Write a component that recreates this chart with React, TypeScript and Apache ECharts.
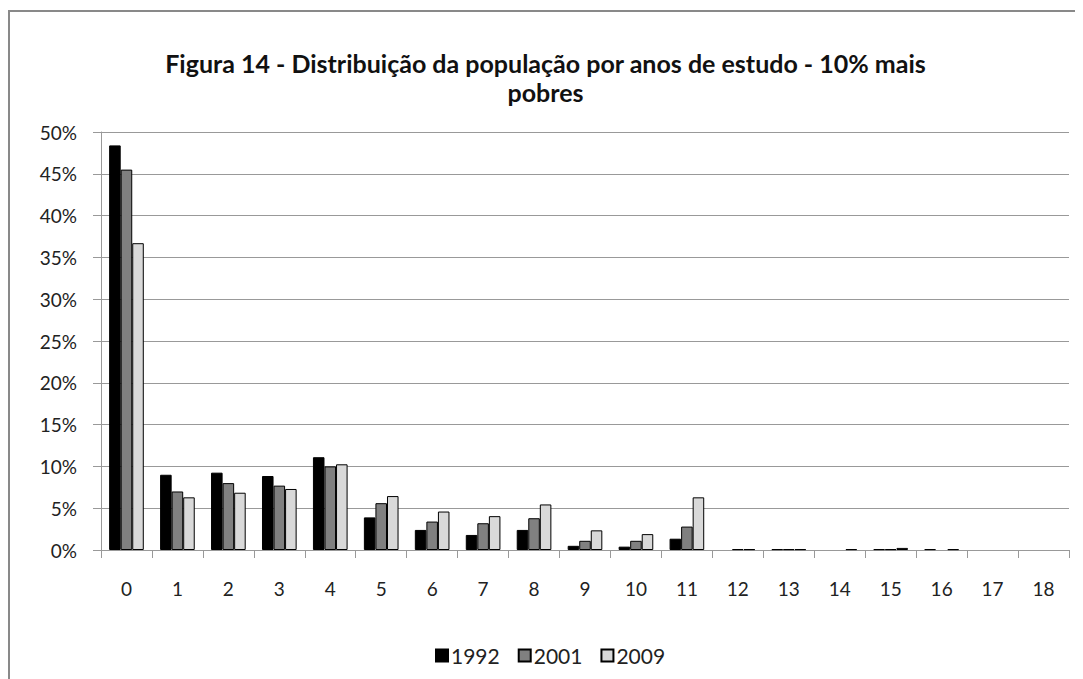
import React, { useEffect, useRef } from "react";
import * as echarts from "echarts";

const categories = ["0","1","2","3","4","5","6","7","8","9","10","11","12","13","14","15","16","17","18"];
const seriesNames = ["1992", "2001", "2009"];
const values1992 = [48.4, 9.0, 9.25, 8.85, 11.1, 3.9, 2.4, 1.8, 2.4, 0.5, 0.4, 1.35, 0, 0.1, 0, 0.1, 0.1, 0, 0];
const values2001 = [45.5, 7.0, 8.0, 7.7, 10.0, 5.6, 3.4, 3.2, 3.8, 1.1, 1.1, 2.8, 0.1, 0.1, 0, 0.1, 0, 0, 0];
const values2009 = [36.7, 6.3, 6.85, 7.3, 10.25, 6.45, 4.6, 4.05, 5.45, 2.35, 1.9, 6.3, 0.1, 0.1, 0.1, 0.25, 0.1, 0, 0];
const colors = ["#000000", "#808080", "#d9d9d9"];
const titleText = "Figura 14 - Distribuição da população por anos de estudo - 10% mais\npobres";

const FONT = "Lato, 'Open Sans', sans-serif";

export default function App() {
  const ref = useRef<HTMLDivElement>(null);
  useEffect(() => {
    if (!ref.current) return;
    const chart = echarts.init(ref.current, undefined, { renderer: "svg" });
    const data = [values1992, values2001, values2009];
    chart.setOption({
      animation: false,
      backgroundColor: "#ffffff",
      textStyle: { fontFamily: FONT },
      title: {
        text: titleText,
        left: "center",
        top: 35,
        textStyle: { fontFamily: FONT, fontSize: 25, fontWeight: "bold", color: "#111", lineHeight: 29 },
      },
      graphic: [
        {
          type: "rect",
          shape: { x: 1, y: 3, width: 2000, height: 2000 },
          style: { fill: "none", stroke: "#898989", lineWidth: 2 },
          silent: true,
        },
      ],
      legend: {
        data: seriesNames,
        left: 422,
        top: 632,
        itemWidth: 12,
        itemHeight: 12,
        itemGap: 18,
        icon: "rect",
        textStyle: { fontFamily: FONT, fontSize: 21, color: "#222", padding: [0, 0, 0, -2] },
      },
      grid: { left: 93, right: 14, top: 124, bottom: 129, containLabel: false },
      xAxis: {
        type: "category",
        data: categories,
        axisLine: { show: true, lineStyle: { color: "#999", width: 1 } },
        axisTick: { show: true, length: 8, alignWithLabel: false, lineStyle: { color: "#999" } },
        axisLabel: { fontFamily: FONT, fontSize: 19, color: "#222", margin: 29 },
      },
      yAxis: {
        type: "value",
        min: 0,
        max: 50,
        interval: 5,
        axisLine: { show: true, lineStyle: { color: "#999", width: 1 } },
        axisTick: { show: true, length: 8, lineStyle: { color: "#999" } },
        splitLine: { show: true, lineStyle: { color: "#999", width: 1 } },
        axisLabel: { fontFamily: FONT, fontSize: 19, color: "#222", margin: 24, formatter: "{value}%" },
      },
      series: seriesNames.map((name, i) => ({
        name,
        type: "bar",
        data: data[i].map((v) => (v === 0 ? { value: v, itemStyle: { borderWidth: 0 } } : v)),
        barGap: "0%",
        barCategoryGap: "32%",
        itemStyle: { color: colors[i], borderColor: "#000", borderWidth: 1 },
      })),
    });
    return () => chart.dispose();
  }, []);
  return <div ref={ref} style={{ width: 1075, height: 671 }} />;
}
